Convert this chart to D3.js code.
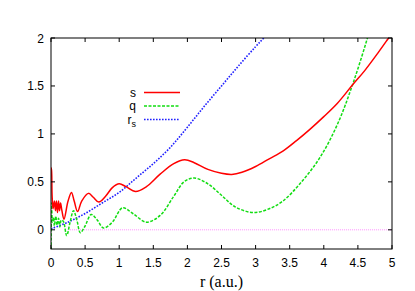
<!DOCTYPE html>
<html>
<head>
<meta charset="utf-8">
<script src="https://cdn.jsdelivr.net/npm/d3@7"></script>
<style>
  body { margin: 0; background: #fff; }
  .serif { font-family: "Liberation Serif", "DejaVu Serif", serif; }
</style>
</head>
<body>
<div id="chart"></div>
<script>
// s curve (red)
let sR = [0, 0.008, 0.016, 0.03, 0.05, 0.065, 0.08, 0.095, 0.11, 0.125, 0.14, 0.16, 0.19, 0.25, 0.3, 0.34, 0.39, 0.45, 0.55, 0.62, 0.7, 0.8, 0.9, 1.0, 1.1, 1.24, 1.4, 1.6, 1.8, 1.96, 2.1, 2.3, 2.5, 2.65, 2.8, 3.0, 3.2, 3.4, 3.6, 3.8, 4.0, 4.2, 4.42, 4.6, 4.8, 4.95, 5.0]
let sVal = [0.65, 0.62, 0.36, 0.22, 0.3, 0.2, 0.3, 0.18, 0.3, 0.2, 0.28, 0.2, 0.11, 0.3, 0.39, 0.3, 0.19, 0.3, 0.38, 0.34, 0.29, 0.35, 0.44, 0.48, 0.45, 0.4, 0.45, 0.58, 0.69, 0.73, 0.7, 0.63, 0.59, 0.578, 0.6, 0.66, 0.74, 0.82, 0.93, 1.05, 1.18, 1.32, 1.51, 1.66, 1.85, 2.0, 2.05]

// q curve (green)
let qR = [0, 0.008, 0.02, 0.035, 0.05, 0.07, 0.09, 0.11, 0.13, 0.15, 0.18, 0.23, 0.28, 0.33, 0.38, 0.43, 0.5, 0.59, 0.68, 0.77, 0.9, 1.05, 1.2, 1.4, 1.6, 1.8, 1.95, 2.1, 2.3, 2.5, 2.7, 2.97, 3.2, 3.4, 3.65, 3.94, 4.2, 4.42, 4.64, 4.8]
let qVal = [-0.3, 0.28, 0.08, 0.13, 0.04, 0.14, 0.05, 0.12, 0.03, 0.1, 0.09, -0.06, 0.08, 0.2, 0.1, -0.03, 0.04, 0.16, 0.1, 0.02, 0.08, 0.23, 0.17, 0.08, 0.15, 0.35, 0.5, 0.54, 0.48, 0.36, 0.24, 0.18, 0.22, 0.3, 0.48, 0.75, 1.1, 1.51, 2.0, 2.4]

// r_s curve (blue)
let rsR = [0, 0.25, 0.5, 0.75, 1.0, 1.25, 1.5, 1.75, 2.0, 2.25, 2.5, 2.75, 3.0, 3.12, 3.3]
let rsVal = [0.01, 0.08, 0.17, 0.28, 0.39, 0.54, 0.69, 0.86, 1.07, 1.29, 1.5, 1.71, 1.91, 2.0, 2.14]

// zero line (magenta)
let zeroR = [0.25, 5]
let zeroVal = [0, 0]

let xTicks = [0, 0.5, 1, 1.5, 2, 2.5, 3, 3.5, 4, 4.5, 5]
let yTicks = [0, 0.5, 1, 1.5, 2]

var width = 415, height = 291;
var margin = { top: 38, right: 23, bottom: 42, left: 51 };
var w = width - margin.left - margin.right;
var h = height - margin.top - margin.bottom;
var sans = '"Liberation Sans", Arial, sans-serif';

var svg = d3.select('#chart').append('svg')
    .attr('width', width)
    .attr('height', height);

var x = d3.scaleLinear().domain([0, 5]).range([margin.left, margin.left + w]);
var y = d3.scaleLinear().domain([-0.2, 2]).range([margin.top + h, margin.top]);

svg.append('clipPath').attr('id', 'clip')
    .append('rect')
    .attr('x', margin.left).attr('y', margin.top)
    .attr('width', w).attr('height', h);

var line = d3.line()
    .x(d => x(d[0]))
    .y(d => y(d[1]))
    .curve(d3.curveCatmullRom.alpha(0.5));

const pairs = (a, b) => a.map((v, i) => [v, b[i]]);

var g = svg.append('g').attr('clip-path', 'url(#clip)');

g.append('path')
    .attr('d', d3.line().x(d => x(d[0])).y(d => y(d[1]))(pairs(zeroR, zeroVal)))
    .attr('fill', 'none')
    .attr('stroke', '#ff90ff')
    .attr('stroke-width', 1)
    .attr('stroke-dasharray', '1,1');

g.append('path')
    .attr('d', line(pairs(rsR, rsVal)))
    .attr('fill', 'none')
    .attr('stroke', '#2020ff')
    .attr('stroke-width', 1.6)
    .attr('stroke-dasharray', '1.6,1.4');

g.append('path')
    .attr('d', line(pairs(qR, qVal)))
    .attr('fill', 'none')
    .attr('stroke', '#11dd11')
    .attr('stroke-width', 1.5)
    .attr('stroke-dasharray', '3,1.5');

g.append('path')
    .attr('d', line(pairs(sR, sVal)))
    .attr('fill', 'none')
    .attr('stroke', '#ff0000')
    .attr('stroke-width', 1.5);

// frame
svg.append('rect')
    .attr('x', margin.left).attr('y', margin.top)
    .attr('width', w).attr('height', h)
    .attr('fill', 'none')
    .attr('stroke', '#000')
    .attr('stroke-width', 1);

// ticks (inward, both sides)
var tl = 4;
xTicks.forEach(t => {
    svg.append('line').attr('x1', x(t)).attr('x2', x(t))
        .attr('y1', margin.top + h).attr('y2', margin.top + h - tl)
        .attr('stroke', '#000');
    svg.append('line').attr('x1', x(t)).attr('x2', x(t))
        .attr('y1', margin.top).attr('y2', margin.top + tl)
        .attr('stroke', '#000');
    svg.append('text')
        .attr('x', x(t)).attr('y', 267)
        .attr('text-anchor', 'middle')
        .attr('font-family', sans)
        .attr('font-size', 12)
        .text(t);
});
yTicks.forEach(t => {
    svg.append('line').attr('x1', margin.left).attr('x2', margin.left + tl)
        .attr('y1', y(t)).attr('y2', y(t))
        .attr('stroke', '#000');
    svg.append('line').attr('x1', margin.left + w).attr('x2', margin.left + w - tl)
        .attr('y1', y(t)).attr('y2', y(t))
        .attr('stroke', '#000');
    svg.append('text')
        .attr('x', 44).attr('y', y(t) + 4.5)
        .attr('text-anchor', 'end')
        .attr('font-family', sans)
        .attr('font-size', 12)
        .text(t);
});

// axis title
svg.append('text')
    .attr('class', 'serif')
    .attr('x', x(2.5)).attr('y', 287)
    .attr('text-anchor', 'middle')
    .style('font-size', '16px')
    .text('r (a.u.)');

// legend
var legend = [
    { label: 's', sub: '', color: '#ff0000', dash: null, width: 1.5, y: 92.5 },
    { label: 'q', sub: '', color: '#11dd11', dash: '3,1.5', width: 1.5, y: 106 },
    { label: 'r', sub: 's', color: '#2020ff', dash: '1.6,1.4', width: 1.6, y: 119.5 }
];
legend.forEach(d => {
    svg.append('line')
        .attr('x1', 144).attr('x2', 180)
        .attr('y1', d.y).attr('y2', d.y)
        .attr('stroke', d.color)
        .attr('stroke-width', d.width)
        .attr('stroke-dasharray', d.dash);
    var t = svg.append('text')
        .attr('x', 136).attr('y', d.y + 4)
        .attr('text-anchor', 'end')
        .attr('font-family', sans)
        .attr('font-size', 12)
        .text(d.label);
    if (d.sub) {
        t.append('tspan').attr('dy', 3).attr('font-size', 9).text(d.sub);
    }
});
</script>
</body>
</html>
